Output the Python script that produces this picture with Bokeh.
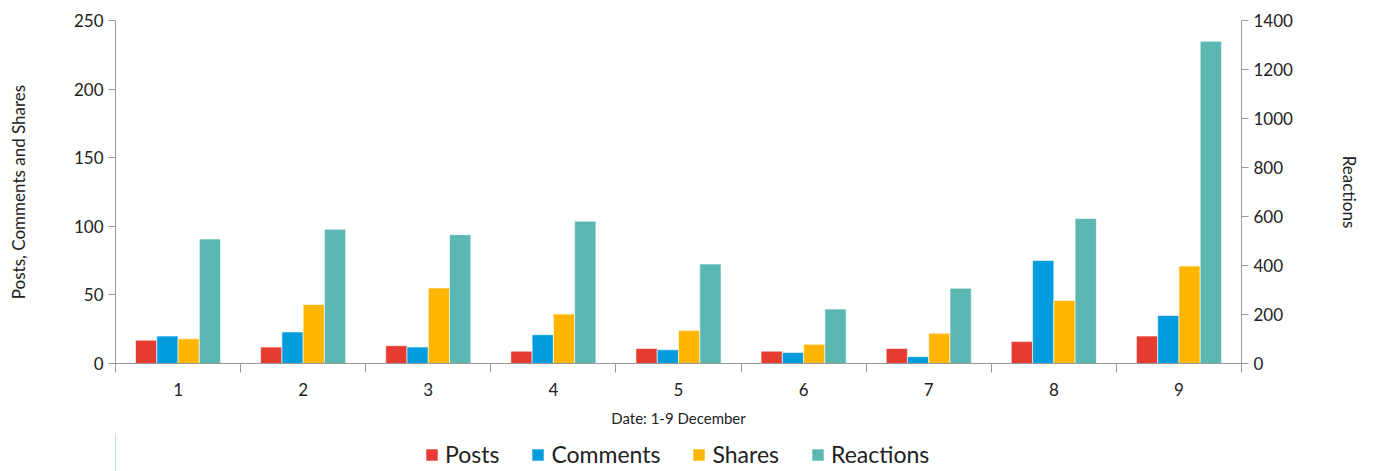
from bokeh.plotting import figure
from bokeh.models import (ColumnDataSource, Range1d, LinearAxis, FixedTicker,
                          Legend, LegendItem)
from bokeh.layouts import column
from bokeh.transform import dodge
from bokeh.embed import file_html
from bokeh.resources import INLINE

days = [1, 2, 3, 4, 5, 6, 7, 8, 9]
posts = [17, 12, 13, 9, 11, 9, 11, 16, 20]
comments = [20, 23, 12, 21, 10, 8, 5, 75, 35]
shares = [18, 43, 55, 36, 24, 14, 22, 46, 71]
reactions = [508, 548, 526, 581, 406, 222, 307, 592, 1315]

left_ticks = [0, 50, 100, 150, 200, 250]
right_ticks = [0, 200, 400, 600, 800, 1000, 1200, 1400]

series_names = ["Posts", "Comments", "Shares", "Reactions"]
series_cols = ["posts", "comments", "shares", "reactions"]
colors = {"Posts": "#E53B30", "Comments": "#009CDE", "Shares": "#FFB600", "Reactions": "#5BB7B1"}
FONT = "Lato"
AXC = "#9a9a9a"

src = ColumnDataSource(dict(day=days, posts=posts, comments=comments,
                            shares=shares, reactions=reactions))

p = figure(frame_width=1126, frame_height=343, output_backend="svg", toolbar_location=None,
           x_range=Range1d(0.5, 9.5), y_range=Range1d(0, 250),
           min_border_left=115, min_border_right=130, min_border_top=20,
           min_border_bottom=70)
p.extra_y_ranges = {"r": Range1d(0, 1400)}
p.outline_line_color = None
p.xgrid.grid_line_color = None
p.ygrid.grid_line_color = None

bw = 0.17
p.vbar(x=dodge("day", -1.5 * bw, range=p.x_range), top="posts", width=bw,
       source=src, fill_color=colors["Posts"], line_color="white", line_width=0.6)
p.vbar(x=dodge("day", -0.5 * bw, range=p.x_range), top="comments", width=bw,
       source=src, fill_color=colors["Comments"], line_color="white", line_width=0.6)
p.vbar(x=dodge("day", 0.5 * bw, range=p.x_range), top="shares", width=bw,
       source=src, fill_color=colors["Shares"], line_color="white", line_width=0.6)
p.vbar(x=dodge("day", 1.5 * bw, range=p.x_range), top="reactions", width=bw,
       source=src, fill_color=colors["Reactions"], line_color="white", line_width=0.6,
       y_range_name="r")

def style(ax):
    ax.axis_line_color = AXC
    ax.major_tick_line_color = AXC
    ax.minor_tick_line_color = AXC
    ax.major_label_text_font = FONT
    ax.major_label_text_font_size = "17px"
    ax.major_label_text_color = "#222222"
    ax.axis_label_text_font = FONT
    ax.axis_label_text_font_style = "normal"
    ax.axis_label_text_color = "#222222"
    ax.major_tick_in = 0

# x axis
xa = p.xaxis[0]
style(xa)
xa.ticker = FixedTicker(ticks=days, minor_ticks=[d - 0.5 for d in days] + [9.5])
xa.major_tick_out = 0
xa.minor_tick_out = 9
xa.minor_tick_in = 0
xa.major_label_standoff = 10
xa.axis_label = "Date: 1-9 December"
xa.axis_label_text_font_size = "15px"
xa.axis_label_standoff = 10

# left axis
ya = p.yaxis[0]
style(ya)
ya.ticker = FixedTicker(ticks=left_ticks)
ya.minor_tick_line_color = None
ya.major_tick_out = 7
ya.axis_label = "Posts, Comments and Shares"
ya.axis_label_text_font_size = "17px"
ya.axis_label_standoff = 42

# right axis
ra = LinearAxis(y_range_name="r")
style(ra)
ra.ticker = FixedTicker(ticks=right_ticks)
ra.minor_tick_line_color = None
ra.major_tick_out = 7
ra.axis_label = "Reactions"
ra.axis_label_text_font_size = "17px"
ra.axis_label_standoff = 43
p.add_layout(ra, "right")

# legend strip below the chart (its bars lie outside its own view)
leg = figure(width=1371, height=38, output_backend="svg", toolbar_location=None,
             x_range=Range1d(100, 101), y_range=Range1d(0, 1),
             x_axis_type=None, y_axis_type=None,
             min_border_left=0, min_border_right=0,
             min_border_top=0, min_border_bottom=0)
leg.outline_line_color = None
leg.border_fill_color = "white"
leg.background_fill_color = "white"
leg.xgrid.grid_line_color = None
leg.ygrid.grid_line_color = None
items = []
for name, col in zip(series_names, series_cols):
    r = leg.vbar(x="day", top=col, width=0.1, source=src,
                 fill_color=colors[name], line_color="white", line_width=0.6)
    items.append(LegendItem(label=name, renderers=[r]))

legend = Legend(items=items, orientation="horizontal", location=(309, 3),
                label_text_font=FONT, label_text_font_size="23px",
                label_text_color="#222222",
                glyph_width=15, glyph_height=15, label_standoff=6, spacing=31,
                border_line_color=None, background_fill_alpha=0,
                padding=0, margin=0)
leg.add_layout(legend, "center")

layout = column(p, leg, spacing=0)
open("out.html", "w").write(file_html(layout, INLINE))
